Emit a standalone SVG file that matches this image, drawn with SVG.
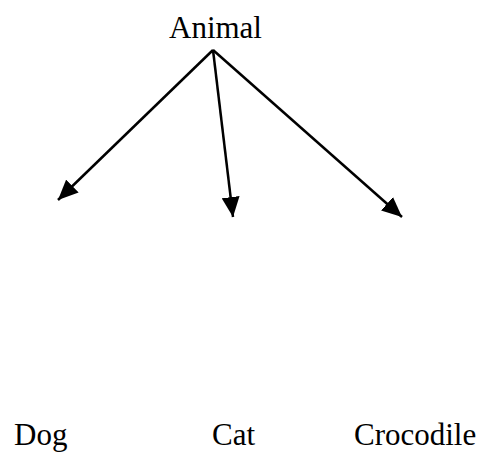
<svg xmlns="http://www.w3.org/2000/svg" width="483" height="453" viewBox="0 0 483 453">
<style>
.t{font-family:"Liberation Serif","Times New Roman",serif;font-size:31px;fill:#000}
.c{stroke:#000;stroke-width:2.5;fill:none}
</style>
<defs>
<marker id="ah" markerUnits="userSpaceOnUse" markerWidth="20" markerHeight="18" viewBox="0 0 20 18" refX="20" refY="9" orient="auto">
<path d="M0,0 L20,9 L0,18 z" fill="#000"/>
</marker>
</defs>
<rect width="483" height="453" fill="#fff"/>
<g id="connectors">
<line class="c" x1="213" y1="50" x2="58" y2="200" marker-end="url(#ah)"/>
<line class="c" x1="213" y1="50" x2="233" y2="217" marker-end="url(#ah)"/>
<line class="c" x1="213" y1="50" x2="402" y2="217" marker-end="url(#ah)"/>
</g>
<g id="animal"><text class="t" x="169" y="38">Animal</text></g>
<g id="dog"><text class="t" x="14" y="445">Dog</text></g>
<g id="cat"><text class="t" x="212" y="445">Cat</text></g>
<g id="crocodile"><text class="t" x="354" y="445">Crocodile</text></g>
</svg>
